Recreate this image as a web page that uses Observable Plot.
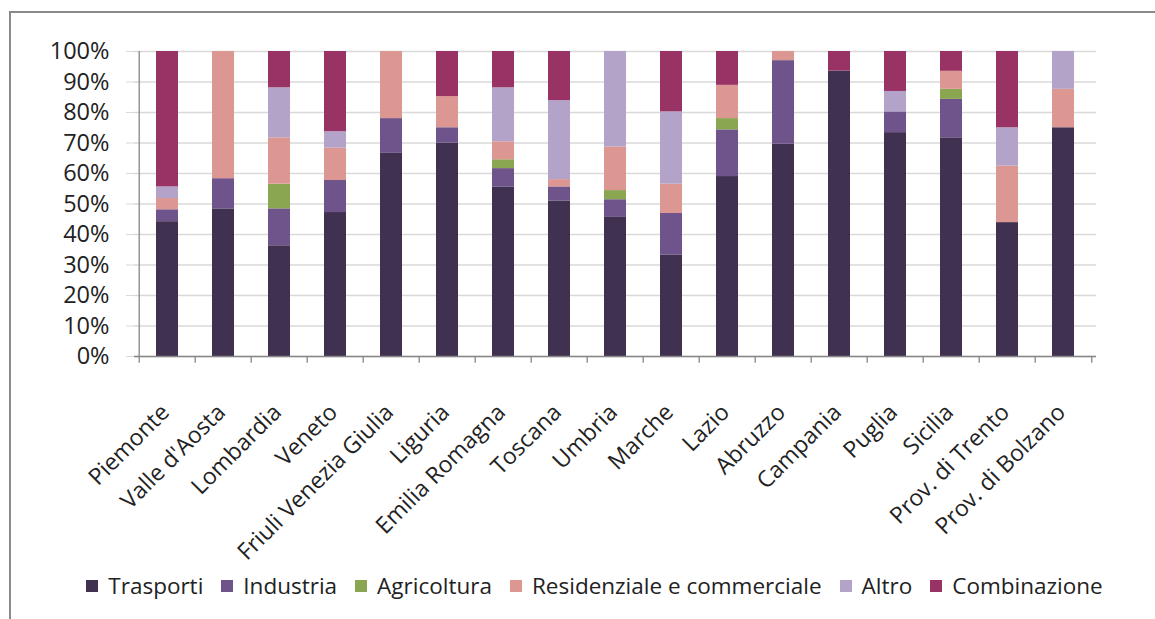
<!DOCTYPE html>
<html>
<head>
<meta charset="utf-8">
<script src="https://cdn.jsdelivr.net/npm/d3@7"></script>
<script src="https://cdn.jsdelivr.net/npm/@observablehq/plot@0.6"></script>
<style>
  html, body { margin: 0; padding: 0; background: #fff; }
  body { width: 1155px; height: 619px; overflow: hidden; position: relative; font-family: "Open Sans", sans-serif; }
  #frame { position: absolute; left: 9px; top: 11px; width: 1160px; height: 620px; border: 2px solid #8a8a8a; box-sizing: border-box; }
  #chart { position: absolute; left: 0; top: 0; }
  #legend { position: absolute; left: 17px; width: 1155px; top: 570px; display: flex; justify-content: center; align-items: center; font-size: 22.5px; color: #222; }
  .item { display: flex; align-items: center; margin: 0 9px; }
  .sw { width: 12px; height: 12px; margin-right: 10px; }
</style>
</head>
<body>
<div id="frame"></div>
<div id="chart"></div>
<div id="legend"></div>
<script>
const regions = ["Piemonte", "Valle d'Aosta", "Lombardia", "Veneto", "Friuli Venezia Giulia", "Liguria", "Emilia Romagna", "Toscana", "Umbria", "Marche", "Lazio", "Abruzzo", "Campania", "Puglia", "Sicilia", "Prov. di Trento", "Prov. di Bolzano"];
const sectors = ["Trasporti", "Industria", "Agricoltura", "Residenziale e commerciale", "Altro", "Combinazione"];
const trasporti    = [44.2, 48.4, 36.3, 47.2, 66.6, 70.0, 55.6, 51.0, 45.6, 33.3, 59.0, 69.6, 93.6, 73.4, 71.7, 43.9, 75.0];
const industria    = [ 3.9,  9.9, 12.1, 10.5, 11.4,  5.0,  6.0,  4.6,  5.8, 13.6, 15.3, 27.4,  0.0,  6.8, 12.6,  0.0,  0.0];
const agricoltura  = [ 0.0,  0.0,  8.1,  0.0,  0.0,  0.0,  2.9,  0.0,  3.0,  0.0,  3.7,  0.0,  0.0,  0.0,  3.3,  0.0,  0.0];
const residenziale = [ 3.7, 41.7, 15.2, 10.6, 22.0, 10.2,  5.9,  2.4, 14.3,  9.6, 10.9,  3.0,  0.0,  0.0,  5.9, 18.5, 12.6];
const altro        = [ 3.8,  0.0, 16.4,  5.4,  0.0,  0.0, 17.7, 25.9, 31.3, 23.7,  0.0,  0.0,  0.0,  6.7,  0.0, 12.6, 12.4];
const combinazione = [44.4,  0.0, 11.9, 26.3,  0.0, 14.8, 11.9, 16.1,  0.0, 19.8, 11.1,  0.0,  6.4, 13.1,  6.5, 25.0,  0.0];
const yTicks = [0, 10, 20, 30, 40, 50, 60, 70, 80, 90, 100];
const colors = ["#403151", "#6e548b", "#8aa650", "#dc9793", "#b3a3c8", "#993366"];

const series = [trasporti, industria, agricoltura, residenziale, altro, combinazione];
const data = [];
regions.forEach((r, i) => {
  sectors.forEach((s, j) => data.push({region: r, sector: s, value: series[j][i]}));
});

const W = 1155, H = 619, ML = 134, MR = 59, MT = 51, MB = 263;
const step = (W - ML - MR) / regions.length;
const pad = 0.61;

const chart = Plot.plot({
  width: W, height: H,
  marginLeft: ML, marginRight: MR, marginTop: MT, marginBottom: MB,
  style: {fontFamily: "'Open Sans', sans-serif", color: "#222", background: "transparent"},
  x: {domain: regions, paddingInner: pad, paddingOuter: pad / 2, axis: null},
  y: {domain: [0, 100], axis: null},
  color: {domain: sectors, range: colors},
  marks: [
    Plot.gridY(yTicks, {stroke: "#d9d9d9", strokeOpacity: 1, strokeWidth: 1.3}),
    Plot.axisY(yTicks, {tickFormat: d => d + "%", tickSize: 8, tickPadding: 17, stroke: "#d9d9d9", strokeOpacity: 1, fontSize: 23.5, label: null}),
    Plot.barY(data, {x: "region", y: "value", fill: "sector"}),
    Plot.axisX(regions, {tickSize: 0, tickPadding: 44, tickRotate: -45, dx: -2, dy: 8, fontSize: 23, label: null}),
    Plot.ruleY([0], {stroke: "#868686", strokeWidth: 1.3}),
    Plot.ruleX([regions[0]], {x: d => d, y1: 0, y2: 100, dx: -step / 2, stroke: "#868686", strokeWidth: 1.3}),
    Plot.ruleX(regions, {x: d => d, y1: 0, y2: -2.2, dx: -step / 2, stroke: "#868686", strokeWidth: 1.3}),
    Plot.ruleX([regions[regions.length - 1]], {x: d => d, y1: 0, y2: -2.2, dx: step / 2, stroke: "#868686", strokeWidth: 1.3})
  ]
});
document.getElementById("chart").appendChild(chart);

const legend = document.getElementById("legend");
sectors.forEach((s, j) => {
  const it = document.createElement("div");
  it.className = "item";
  const sw = document.createElement("span");
  sw.className = "sw";
  sw.style.background = colors[j];
  const tx = document.createElement("span");
  tx.textContent = s;
  it.appendChild(sw); it.appendChild(tx);
  legend.appendChild(it);
});
</script>
</body>
</html>
